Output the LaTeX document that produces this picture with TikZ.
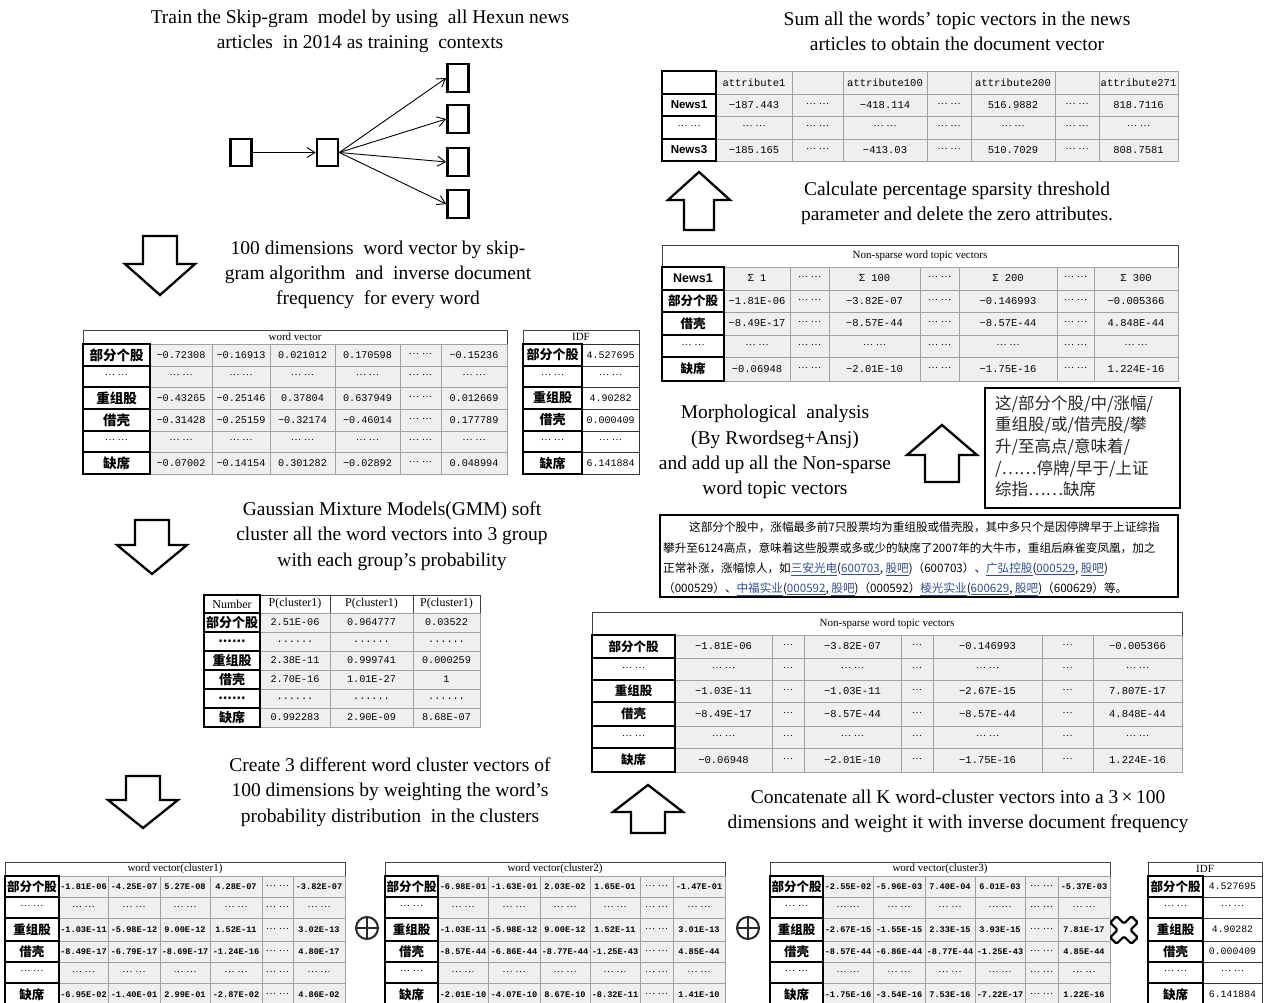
\documentclass[tikz,border=0pt]{standalone}
\usepackage{fontspec}
\setmainfont{Liberation Serif}
\setsansfont{Liberation Sans}
\newfontfamily\cjk{Noto Sans CJK SC}
\newfontfamily\monof{Liberation Mono}
\usetikzlibrary{arrows.meta}
\definecolor{cellgray}{HTML}{EFEFEF}
\definecolor{gridgray}{HTML}{A0A0A0}
\definecolor{linkblue}{HTML}{2E4F9E}
\newcommand\dotg{\raisebox{0.22em}{\rmfamily\mdseries\fontsize{10.5}{10.5}\selectfont …}}
\newcommand\el{{\dotg\hspace{2.5pt}\dotg}}
\newcommand\eo{{\dotg}}
\newcommand\sd{{......}}
\newcommand\lk[1]{{\color{linkblue}\underline{#1}}}
\newcommand\fs[1]{\fontsize{#1}{#1}\selectfont}
\tikzset{
  lbox/.style={fill=white,draw=black,line width=1.1pt},
  dbox/.style={fill=cellgray,draw=gridgray,line width=0.6pt},
  ltxt/.style={inner sep=0pt,font=\cjk\bfseries\fs{13}},
  dtxt/.style={inner sep=0pt,font=\monof\fs{9.5}},
  hbox/.style={fill=white,draw=black!75,line width=0.8pt},
  htxt/.style={inner sep=0pt,font=\fs{11}},
  captxt/.style={inner sep=0pt,align=center,font=\fontsize{19.5}{25.3}\selectfont},
  nbox/.style={draw,line width=2.6pt,minimum width=21pt,minimum height=27pt,inner sep=0pt},
  arr/.style={line width=0.9pt,-{Straight Barb[length=8pt,width=10pt]}},
  barrow/.style={draw,line width=2.3pt,line join=miter,fill=white},
}
\newcommand\tbl[4]{%
  \foreach \rw [count=\ri] in {#4} {%
    \foreach \ct [count=\ci] in \rw {%
      \ifnum\ci>1
        \pgfmathsetmacro\xa{{#2}[\ci-1]}%
        \pgfmathsetmacro\xb{{#2}[\ci]}%
        \pgfmathsetmacro\ya{{#3}[\ri-1]}%
        \pgfmathsetmacro\yb{{#3}[\ri]}%
        \path[dbox] (\xa,\ya) rectangle (\xb,\yb);
        \node[dtxt] (#1-\ri-\ci) at ({(\xa+\xb)/2},{(\ya+\yb)/2}) {\ct};
      \fi
    }%
  }%
  \foreach \rw [count=\ri] in {#4} {%
    \foreach \ct [count=\ci] in \rw {%
      \ifnum\ci=1
        \pgfmathsetmacro\xa{{#2}[0]}%
        \pgfmathsetmacro\xb{{#2}[1]}%
        \pgfmathsetmacro\ya{{#3}[\ri-1]}%
        \pgfmathsetmacro\yb{{#3}[\ri]}%
        \path[lbox] (\xa,\ya) rectangle (\xb,\yb);
        \node[ltxt] (#1-\ri-\ci) at ({(\xa+\xb)/2},{(\ya+\yb)/2}) {\ct};
      \fi
    }%
  }%
}
\newcommand\thead[6]{%
  \path[hbox] (#2,#3) rectangle (#4,#5);
  \node[htxt] (#1) at ({(#2+#4)/2},{(#3+#5)/2}) {#6};
}
\newcommand\blockarrow[6]{% cx, tip, headbase, end, halfhead, halfshaft
  \draw[barrow] ({#1-#6},{#4}) -- ({#1+#6},{#4}) -- ({#1+#6},{#3}) -- ({#1+#5},{#3}) -- ({#1},{#2}) -- ({#1-#5},{#3}) -- ({#1-#6},{#3}) -- cycle;
}
\begin{document}
\begin{tikzpicture}[x=1pt,y=-1pt]
\useasboundingbox (0,0) rectangle (1270,1003);
\fill[white] (0,0) rectangle (1270,1003);

% ---------- captions ----------
\node[captxt] (t1) at (360,31) {Train the Skip-gram\ \ model by using\ \ all Hexun news\\articles\ \ in 2014 as training\ \ contexts};
\node[captxt] (t2) at (957,31) {Sum all the words' topic vectors in the news\\articles to obtain the document vector};
\node[captxt] (t3) at (378,275) {100 dimensions\ \ word vector by skip-\\gram algorithm\ \ and\ \ inverse document\\frequency\ \ for every word};
\node[captxt] (t4) at (957,203) {Calculate percentage sparsity threshold\\parameter and delete the zero attributes.};
\node[captxt] (t5) at (392,536) {Gaussian Mixture Models(GMM) soft\\cluster all the word vectors into 3 group\\with each group's probability};
\node[captxt] (t6) at (775,452) {Morphological\ \ analysis\\(By Rwordseg+Ansj)\\and add up all the Non-sparse\\word topic vectors};
\node[captxt] (t7) at (390,792) {Create 3 different word cluster vectors of\\100 dimensions by weighting the word's\\probability distribution\ \ in the clusters};
\node[captxt] (t8) at (958,811) {Concatenate all K word-cluster vectors into a 3\,×\,100\\dimensions and weight it with inverse document frequency};

% ---------- skip-gram network ----------
\node[nbox] (s1) at (241,152.5) {};
\node[nbox] (s2) at (327.5,152.5) {};
\node[nbox,minimum height=28pt] (r1) at (458,78) {};
\node[nbox,minimum height=28pt] (r2) at (458,119) {};
\node[nbox,minimum height=28pt] (r3) at (458,162) {};
\node[nbox,minimum height=28pt] (r4) at (458,204) {};
\draw[arr] (s1) -- (s2);
\draw[arr] (s2.east) -- (r1.west);
\draw[arr] (s2.east) -- (r2.west);
\draw[arr] (s2.east) -- (r3.west);
\draw[arr] (s2.east) -- (r4.west);

% ---------- block arrows ----------
\blockarrow{160}{295}{264}{236}{35}{17}
\blockarrow{152}{574}{545}{520}{35}{17}
\blockarrow{143}{828}{800}{776}{35}{17}
\blockarrow{648}{785}{812}{833}{35}{17}
\blockarrow{942}{425}{455}{482}{35}{17}
\blockarrow{699}{172}{200}{230}{31}{15}

% ---------- table A: word vector ----------
\begin{scope}[dtxt/.append style={font=\monof\fs{10.2}},ltxt/.append style={font=\cjk\bfseries\fs{13.5}}]
\thead{wvh}{83}{330}{507}{344}{word vector}
\tbl{wv}{83,150,212,270,335,400,441,507}{344,366,387,409,431,452,474}{
 {部分个股,−0.72308,−0.16913,0.021012,0.170598,\el,−0.15236},
 {\el,\el,\el,\el,\el,\el,\el},
 {重组股,−0.43265,−0.25146,0.37804,0.637949,\el,0.012669},
 {借壳,−0.31428,−0.25159,−0.32174,−0.46014,\el,0.177789},
 {\el,\el,\el,\el,\el,\el,\el},
 {缺席,−0.07002,−0.14154,0.301282,−0.02892,\el,0.048994}}
\end{scope}
\begin{scope}[dtxt/.append style={font=\monof\fs{10}},lbox/.append style={fill=white},dbox/.style={fill=white,draw=black!80,line width=0.8pt}]
\thead{idfh}{523}{330}{639}{344}{IDF}
\tbl{idf}{523,582,639}{344,366,387,409,431,452,474}{
 {部分个股,4.527695},{\el,\el},{重组股,4.90282},{借壳,0.000409},{\el,\el},{缺席,6.141884}}
\end{scope}

% ---------- table B: GMM ----------
\begin{scope}[dtxt/.append style={font=\monof\fs{10.2}}]
\begin{scope}[dbox/.style={fill=white,draw=black!75,line width=0.8pt},dtxt/.append style={font=\fs{12}},ltxt/.append style={font=\fs{12}}]
\tbl{gh}{204,260,330,413,480}{595,613}{{Number,P(cluster1),P(cluster1),P(cluster1)}}
\end{scope}
\tbl{gmm}{204,260,330,413,480}{613,632,651,670,689,708,727}{
 {部分个股,2.51E-06,0.964777,0.03522},
 {\sd,\sd,\sd,\sd},
 {重组股,2.38E-11,0.999741,0.000259},
 {借壳,2.70E-16,1.01E-27,1},
 {\sd,\sd,\sd,\sd},
 {缺席,0.992283,2.90E-09,8.68E-07}}
\end{scope}

% ---------- bottom tables ----------
\begin{scope}[dtxt/.append style={font=\monof\bfseries\fs{8.6}},ltxt/.append style={font=\cjk\bfseries\fs{12.5}}]
\thead{c1h}{5}{862}{345}{876}{word vector(cluster1)}
\tbl{c1}{5,59,108,160,210,262,293,345}{876,897,918,941,962,983,1006}{
 {部分个股,-1.81E-06,-4.25E-07,5.27E-08,4.28E-07,\el,-3.82E-07},
 {\el,\el,\el,\el,\el,\el,\el},
 {重组股,-1.03E-11,-5.98E-12,9.00E-12,1.52E-11,\el,3.02E-13},
 {借壳,-8.49E-17,-6.79E-17,-8.69E-17,-1.24E-16,\el,4.80E-17},
 {\el,\el,\el,\el,\el,\el,\el},
 {缺席,-6.95E-02,-1.40E-01,2.99E-01,-2.87E-02,\el,4.86E-02}}
\thead{c2h}{385}{862}{725}{876}{word vector(cluster2)}
\tbl{c2}{385,438,488,540,590,640,673,725}{876,897,918,941,962,983,1006}{
 {部分个股,-6.98E-01,-1.63E-01,2.03E-02,1.65E-01,\el,-1.47E-01},
 {\el,\el,\el,\el,\el,\el,\el},
 {重组股,-1.03E-11,-5.98E-12,9.00E-12,1.52E-11,\el,3.01E-13},
 {借壳,-8.57E-44,-6.86E-44,-8.77E-44,-1.25E-43,\el,4.85E-44},
 {\el,\el,\el,\el,\el,\el,\el},
 {缺席,-2.01E-10,-4.07E-10,8.67E-10,-8.32E-11,\el,1.41E-10}}
\thead{c3h}{770}{862}{1110}{876}{word vector(cluster3)}
\tbl{c3}{770,823,873,925,975,1025,1058,1110}{876,897,918,941,962,983,1006}{
 {部分个股,-2.55E-02,-5.96E-03,7.40E-04,6.01E-03,\el,-5.37E-03},
 {\el,\el,\el,\el,\el,\el,\el},
 {重组股,-2.67E-15,-1.55E-15,2.33E-15,3.93E-15,\el,7.81E-17},
 {借壳,-8.57E-44,-6.86E-44,-8.77E-44,-1.25E-43,\el,4.85E-44},
 {\el,\el,\el,\el,\el,\el,\el},
 {缺席,-1.75E-16,-3.54E-16,7.53E-16,-7.22E-17,\el,1.22E-16}}
\end{scope}
\begin{scope}[dtxt/.append style={font=\monof\fs{9.8}},ltxt/.append style={font=\cjk\bfseries\fs{12.5}},dbox/.style={fill=white,draw=black!80,line width=0.8pt}]
\thead{idf2h}{1148}{862}{1262}{876}{IDF}
\tbl{idf2}{1148,1203,1262}{876,897,918,941,962,983,1006}{
 {部分个股,4.527695},{\el,\el},{重组股,4.90282},{借壳,0.000409},{\el,\el},{缺席,6.141884}}
\end{scope}

% operators
\node[draw,circle,line width=2pt,minimum size=22pt,inner sep=0pt,draw=black!85] (op1) at (367,928) {};
\draw[line width=2pt,black!85] (op1.north) -- (op1.south) (op1.west) -- (op1.east);
\node[draw,circle,line width=2pt,minimum size=22pt,inner sep=0pt,draw=black!85] (op2) at (748,928) {};
\draw[line width=2pt,black!85] (op2.north) -- (op2.south) (op2.west) -- (op2.east);
\begin{scope}[shift={(1124,930)},rotate=45]
\draw[line width=2.2pt,rounded corners=1.5pt] (4.5,15) -- (4.5,4.5) -- (15,4.5) -- (15,-4.5) -- (4.5,-4.5) -- (4.5,-15) -- (-4.5,-15) -- (-4.5,-4.5) -- (-15,-4.5) -- (-15,4.5) -- (-4.5,4.5) -- (-4.5,15) -- cycle;
\end{scope}

% ---------- table F: document vector ----------
\begin{scope}[dtxt/.append style={font=\monof\fs{10.5}},ltxt/.append style={font=\sffamily\bfseries\fs{11.5}}]
\tbl{dv}{662,716,792,843,927,971,1055,1099,1178}{71,94,116,139,161}{
 {\mbox{},attribute1,\mbox{},attribute100,\mbox{},attribute200,\mbox{},attribute271},
 {News1,−187.443,\el,−418.114,\el,516.9882,\el,818.7116},
 {\el,\el,\el,\el,\el,\el,\el,\el},
 {News3,−185.165,\el,−413.03,\el,510.7029,\el,808.7581}}
\end{scope}

% ---------- table G: non-sparse (top) ----------
\begin{scope}[dtxt/.append style={font=\monof\fs{10.5}},ltxt/.append style={font=\cjk\bfseries\fs{12.5}}]
\thead{nsh}{662}{245}{1178}{267}{Non-sparse word topic vectors}
\tbl{ns}{662,724,790,829,920,959,1057,1094,1178}{267,290,312,335,357,381}{
 {{\sffamily News1},Σ 1,\el,Σ 100,\el,Σ 200,\el,Σ 300},
 {部分个股,−1.81E-06,\el,−3.82E-07,\el,−0.146993,\el,−0.005366},
 {借壳,−8.49E-17,\el,−8.57E-44,\el,−8.57E-44,\el,4.848E-44},
 {\el,\el,\el,\el,\el,\el,\el,\el},
 {缺席,−0.06948,\el,−2.01E-10,\el,−1.75E-16,\el,1.224E-16}}
\end{scope}

% ---------- table H: non-sparse (middle) ----------
\begin{scope}[dtxt/.append style={font=\monof\fs{10.5}},ltxt/.append style={font=\cjk\bfseries\fs{12.5}}]
\thead{ns2h}{592}{612}{1182}{635}{Non-sparse word topic vectors}
\tbl{ns2}{592,675,772,804,901,933,1042,1093,1182}{635,658,680,702,726,748,772}{
 {部分个股,−1.81E-06,\eo,−3.82E-07,\eo,−0.146993,\eo,−0.005366},
 {\el,\el,\eo,\el,\eo,\el,\eo,\el},
 {重组股,−1.03E-11,\eo,−1.03E-11,\eo,−2.67E-15,\eo,7.807E-17},
 {借壳,−8.49E-17,\eo,−8.57E-44,\eo,−8.57E-44,\eo,4.848E-44},
 {\el,\el,\eo,\el,\eo,\el,\eo,\el},
 {缺席,−0.06948,\eo,−2.01E-10,\eo,−1.75E-16,\eo,1.224E-16}}
\end{scope}

% ---------- segmented words box ----------
\node[draw,line width=1.1pt,minimum width=195pt,minimum height=120pt,inner sep=0pt] (seg) at (1082.5,448) {};
\node[anchor=north west,inner sep=0pt,align=left,font=\cjk\fontsize{16.5}{21.7}\selectfont,text=black!85] (segt) at (995,395)
 {这/部分个股/中/涨幅/\\重组股/或/借壳股/攀\\升/至高点/意味着/\\/……停牌/早于/上证\\综指……缺席};

% ---------- article box ----------
\node[draw,line width=1.1pt,minimum width=518pt,minimum height=82pt,inner sep=0pt] (art) at (919,556) {};
\begin{scope}[every node/.style={anchor=west,inner sep=0pt,font=\cjk\fs{11.6}}]
\node (a1) at (689,527) {这部分个股中，涨幅最多前7只股票均为重组股或借壳股，其中多只个是因停牌早于上证综指};
\node (a2) at (663,548) {攀升至6124高点，意味着这些股票或多或少的缺席了2007年的大牛市，重组后麻雀变凤凰，加之};
\node (a3) at (663,569) {正常补涨，涨幅惊人，如\lk{三安光电}(\lk{600703}, \lk{股吧})（600703）、\lk{广弘控股}(\lk{000529}, \lk{股吧})};
\node (a4) at (663,589) {（000529）、\lk{中福实业}(\lk{000592}, \lk{股吧})（000592）\lk{棱光实业}(\lk{600629}, \lk{股吧})（600629）等。};
\end{scope}
\end{tikzpicture}
\end{document}
